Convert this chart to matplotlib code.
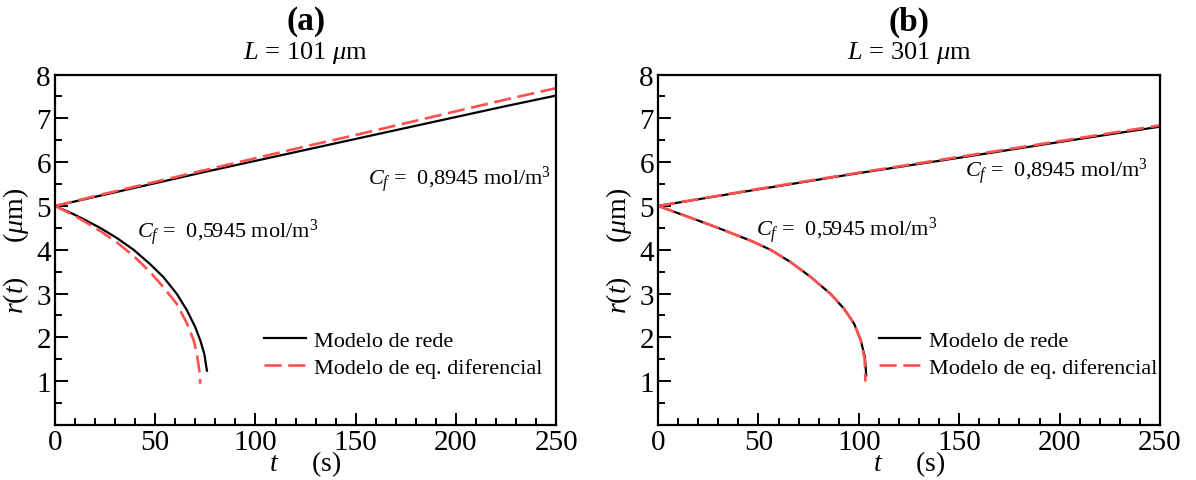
import matplotlib
matplotlib.use('Agg')
import matplotlib.pyplot as plt
from matplotlib.ticker import MultipleLocator, FixedLocator

plt.rcParams['font.family'] = 'Liberation Serif'
plt.rcParams['mathtext.fontset'] = 'custom'
plt.rcParams['mathtext.rm'] = 'Liberation Serif'
plt.rcParams['mathtext.it'] = 'Liberation Serif:italic'
plt.rcParams['mathtext.bf'] = 'Liberation Serif:bold'

# painel (a): L = 101 um
t_a_up = [0, 25, 50, 75, 100, 125, 150, 175, 200, 225, 250]
r_a_up_rede = [5.00, 5.26, 5.52, 5.78, 6.03, 6.28, 6.53, 6.78, 7.03, 7.28, 7.52]
r_a_up_eq = [5.00, 5.28, 5.55, 5.82, 6.09, 6.36, 6.62, 6.89, 7.16, 7.43, 7.69]

t_a_dn_rede = [0, 7.5, 14.2, 22.5, 30.8, 39.2, 47.5, 54.2, 60.8, 65.8, 70.0, 72.5, 74.5, 75.5, 75.8]
r_a_dn_rede = [5.00, 4.85, 4.70, 4.50, 4.27, 4.00, 3.67, 3.37, 2.99, 2.62, 2.23, 1.93, 1.62, 1.32, 1.24]
t_a_dn_eq = [0, 7.5, 14.2, 22.5, 30.8, 39.2, 47.5, 54.2, 60.8, 65.8, 69.2, 70.8, 72.0, 72.5]
r_a_dn_eq = [5.00, 4.83, 4.66, 4.43, 4.17, 3.86, 3.49, 3.14, 2.76, 2.32, 1.93, 1.62, 1.24, 0.94]

# painel (b): L = 301 um
t_b_up = [0, 50, 100, 150, 200, 250]
r_b_up_rede = [5.00, 5.38, 5.75, 6.10, 6.46, 6.81]
r_b_up_eq = [5.00, 5.39, 5.76, 6.12, 6.48, 6.84]

t_b_dn_rede = [0, 12.7, 29.3, 46.0, 56.0, 66.0, 76.0, 86.0, 92.7, 97.7, 101.0, 103.0, 103.7]
r_b_dn_rede = [5.00, 4.79, 4.51, 4.21, 4.00, 3.72, 3.38, 2.99, 2.65, 2.31, 1.93, 1.55, 1.13]
t_b_dn_eq = [0, 12.7, 29.3, 46.0, 56.0, 66.0, 76.0, 86.0, 92.7, 97.7, 101.0, 102.9, 103.3]
r_b_dn_eq = [5.00, 4.79, 4.51, 4.21, 4.00, 3.72, 3.38, 2.99, 2.65, 2.31, 1.93, 1.50, 0.99]

red = '#ff5050'
lab_rede = 'Modelo de rede'
lab_eq = 'Modelo de eq. diferencial'

fig = plt.figure(figsize=(11.96, 4.81), dpi=100)
ax_a = fig.add_axes([0.046, 0.1143, 0.419, 0.7287])
ax_b = fig.add_axes([0.5502, 0.1143, 0.4197, 0.7287])


def panel(ax, letra, L, up, dn_rede, dn_eq, ann_up, ann_dn, leg_xy):
    t_up, r_up_rede, r_up_eq = up
    ax.plot(t_up, r_up_rede, color='black', lw=1.6, label=lab_rede)
    ax.plot(t_up, r_up_eq, color=red, lw=1.9, dashes=(6.5, 2.5), label=lab_eq)
    ax.plot(dn_rede[0], dn_rede[1], color='black', lw=1.6)
    ax.plot(dn_eq[0], dn_eq[1], color=red, lw=1.9, dashes=(6.5, 2.5))

    ax.set_xlim(0, 250)
    ax.set_ylim(0, 8)
    ax.xaxis.set_major_locator(MultipleLocator(50))
    ax.xaxis.set_minor_locator(MultipleLocator(10))
    ax.yaxis.set_major_locator(FixedLocator([1, 2, 3, 4, 5, 6, 7, 8]))
    ax.yaxis.set_minor_locator(MultipleLocator(0.5))
    ax.tick_params(which='both', direction='in', width=1.4, labelsize=21)
    ax.tick_params(which='major', length=9, pad=3)
    ax.tick_params(which='minor', length=5)
    for s in ax.spines.values():
        s.set_linewidth(1.6)

    ax.set_xlabel(r'$t$     (s)', fontsize=20, labelpad=-5)
    ax.set_ylabel(r'$r(t)$     ($\mu$m)', fontsize=20, labelpad=4)

    ax.text(0.5, 1.153, letra, transform=ax.transAxes, ha='center', va='center',
            fontsize=24, fontweight='bold')
    ax.text(0.5, 1.064, r'$L$ = ' + L + r' $\mu$m', transform=ax.transAxes,
            ha='center', va='center', fontsize=19)

    ax.text(ann_up[0], ann_up[1], r'$C_f$ =  0,8945 mol/m$^3$', fontsize=16,
            ha='left', va='center')
    ax.text(ann_dn[0], ann_dn[1], r'$C_f$ =  0,5945 mol/m$^3$', fontsize=16,
            ha='left', va='center')

    ax.legend(loc='upper left', bbox_to_anchor=leg_xy, frameon=False, fontsize=16,
              handlelength=1.85, handletextpad=0.4, labelspacing=0.3,
              borderaxespad=0, borderpad=0)


panel(ax_a, '(a)', '101',
      (t_a_up, r_a_up_rede, r_a_up_eq),
      (t_a_dn_rede, r_a_dn_rede), (t_a_dn_eq, r_a_dn_eq),
      (156, 5.62), (41, 4.42), (0.418, 0.27))
panel(ax_b, '(b)', '301',
      (t_b_up, r_b_up_rede, r_b_up_eq),
      (t_b_dn_rede, r_b_dn_rede), (t_b_dn_eq, r_b_dn_eq),
      (153, 5.8), (49, 4.47), (0.44, 0.27))

fig.savefig('out.png', dpi=100)
